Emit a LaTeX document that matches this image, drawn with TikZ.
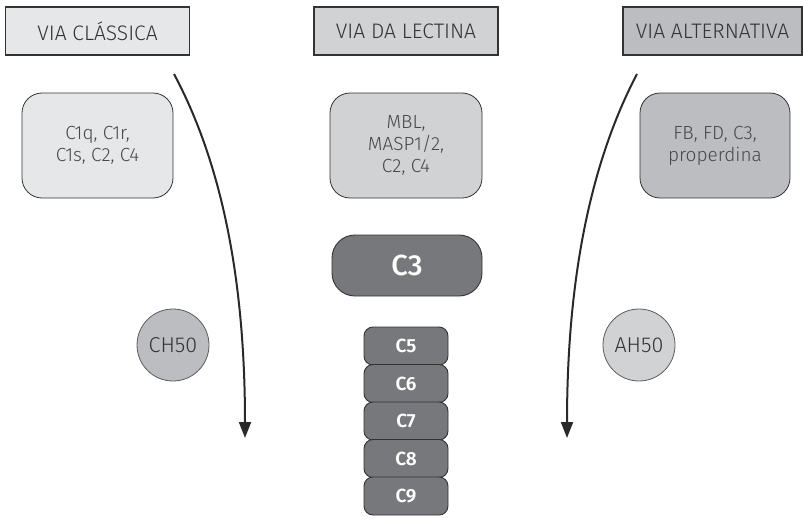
\documentclass[tikz,border=0pt]{standalone}
\usepackage{fontspec}
\setmainfont{Fira Sans Light}[BoldFont=Fira Sans Medium]
\newfontfamily\firasemi{Fira Sans SemiBold}
\usetikzlibrary{arrows.meta}
\definecolor{grisA}{HTML}{E6E7E8}
\definecolor{grisB}{HTML}{D1D2D4}
\definecolor{grisC}{HTML}{BCBDC0}
\definecolor{grisD}{HTML}{77787B}
\definecolor{trazo}{HTML}{333333}
\begin{document}
\begin{tikzpicture}[x=1pt,y=-1pt,
  via/.style={draw=trazo,line width=1.3pt,minimum width=184pt,minimum height=48pt,
    inner sep=0pt,text=trazo,font=\fontsize{21}{24}\selectfont},
  grupo/.style={draw=trazo,line width=0.8pt,rounded corners=20pt,minimum width=151pt,
    minimum height=105pt,inner sep=0pt,align=center,text=trazo!90,
    font=\fontsize{19}{22}\selectfont},
  comp/.style={draw=trazo,line width=0.9pt,fill=grisD,text=white,rounded corners=9pt,
    minimum width=84pt,minimum height=38pt,inner sep=0pt,
    font=\fontsize{19}{22}\firasemi},
  ensaio/.style={circle,draw=trazo!80,line width=0.8pt,minimum size=72pt,inner sep=0pt,
    text=trazo,font=\fontsize{21.5}{22}\selectfont},
  via_seta/.style={-{Triangle[length=16pt,width=12pt]},line width=2pt,draw=trazo!80!black}]
\useasboundingbox (0,0) rectangle (803,517);
\coordinate (A1) at (174,74);
\coordinate (A2) at (245,438);
\coordinate (B1) at (637,74);
\coordinate (B2) at (567,438);
\node[via,fill=grisA] (hdrA) at (97.5,31) {VIA CLÁSSICA};
\node[via,fill=grisB] (hdrB) at (406,31) {VIA DA LECTINA};
\node[via,fill=grisC,minimum width=179pt] (hdrC) at (712.5,31) {VIA ALTERNATIVA};
\node[grupo,fill=grisA] (grpA) at (97.5,145.5) {C1q, C1r,\\C1s, C2, C4};
\node[grupo,fill=grisB,minimum width=152pt] (grpB) at (406,145.5) {MBL,\\MASP1/2,\\C2, C4};
\node[grupo,fill=grisC,minimum width=150pt] (grpC) at (715,145.5) {FB, FD, C3,\\properdina};
\node[comp,minimum width=150pt,minimum height=61pt,rounded corners=23pt,
  font=\fontsize{29}{30}\selectfont\bfseries] (C3) at (407,265.5) {C3};
\node[comp] (C5) at (406,346) {C5};
\node[comp] (C6) at (406,383.5) {C6};
\node[comp] (C7) at (406,421) {C7};
\node[comp] (C8) at (406,458.5) {C8};
\node[comp] (C9) at (406,496) {C9};
\node[ensaio,fill=grisC] (CH) at (173,345) {CH50};
\node[ensaio,fill=grisB] (AH) at (639,345) {AH50};
\draw[via_seta] (A1) .. controls (228,175) and (245,300) .. (A2);
\draw[via_seta] (B1) .. controls (584,175) and (567,300) .. (B2);
\end{tikzpicture}
\end{document}
